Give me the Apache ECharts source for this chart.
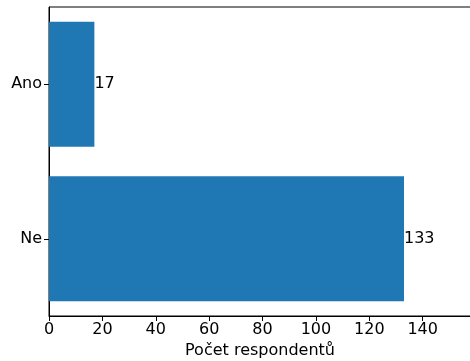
<!DOCTYPE html>
<html><head><meta charset="utf-8">
<script src="https://cdn.jsdelivr.net/npm/echarts@6/dist/echarts.min.js"></script>
<style>html,body{margin:0;padding:0;background:#fff}#c{width:470px;height:361px}</style>
</head><body><div id="c"></div>
<script>
const categories = ['Ne', 'Ano'];
const values = [133, 17];
const xTicks = [0, 20, 40, 60, 80, 100, 120, 140];
const xLabel = 'Počet respondentů';

const chart = echarts.init(document.getElementById('c'), null, {renderer: 'canvas'});
const font = 'DejaVu Sans';
chart.setOption({
  animation: false,
  grid: {left: 49, right: -1, top: 7, bottom: 45, outerBoundsMode: 'none', containLabel: false,
    show: true, borderColor: '#000', borderWidth: 1, backgroundColor: 'transparent'},
  xAxis: {
    type: 'value', min: 0, max: 158.1, interval: 20,
    name: xLabel, nameLocation: 'middle', nameGap: 27,
    nameTextStyle: {fontFamily: font, fontSize: 16, color: '#000'},
    axisLine: {show: true, lineStyle: {color: '#000'}},
    axisTick: {show: true, length: 5, lineStyle: {color: '#000'}, customValues: xTicks},
    axisLabel: {fontFamily: font, fontSize: 16, color: '#000', margin: 6, customValues: xTicks},
    splitLine: {show: false}
  },
  yAxis: {
    type: 'category', data: categories,
    axisLine: {show: true, lineStyle: {color: '#000'}},
    axisTick: {show: true, alignWithLabel: true, length: 5, lineStyle: {color: '#000'}},
    axisLabel: {fontFamily: font, fontSize: 16, color: '#000', margin: 7},
    splitLine: {show: false}
  },
  series: [{
    type: 'bar', data: values, barWidth: 125,
    itemStyle: {color: '#1f77b4'},
    label: {show: true, position: 'right', distance: 0, fontFamily: font, fontSize: 16, color: '#000'}
  }]
});
</script></body></html>
